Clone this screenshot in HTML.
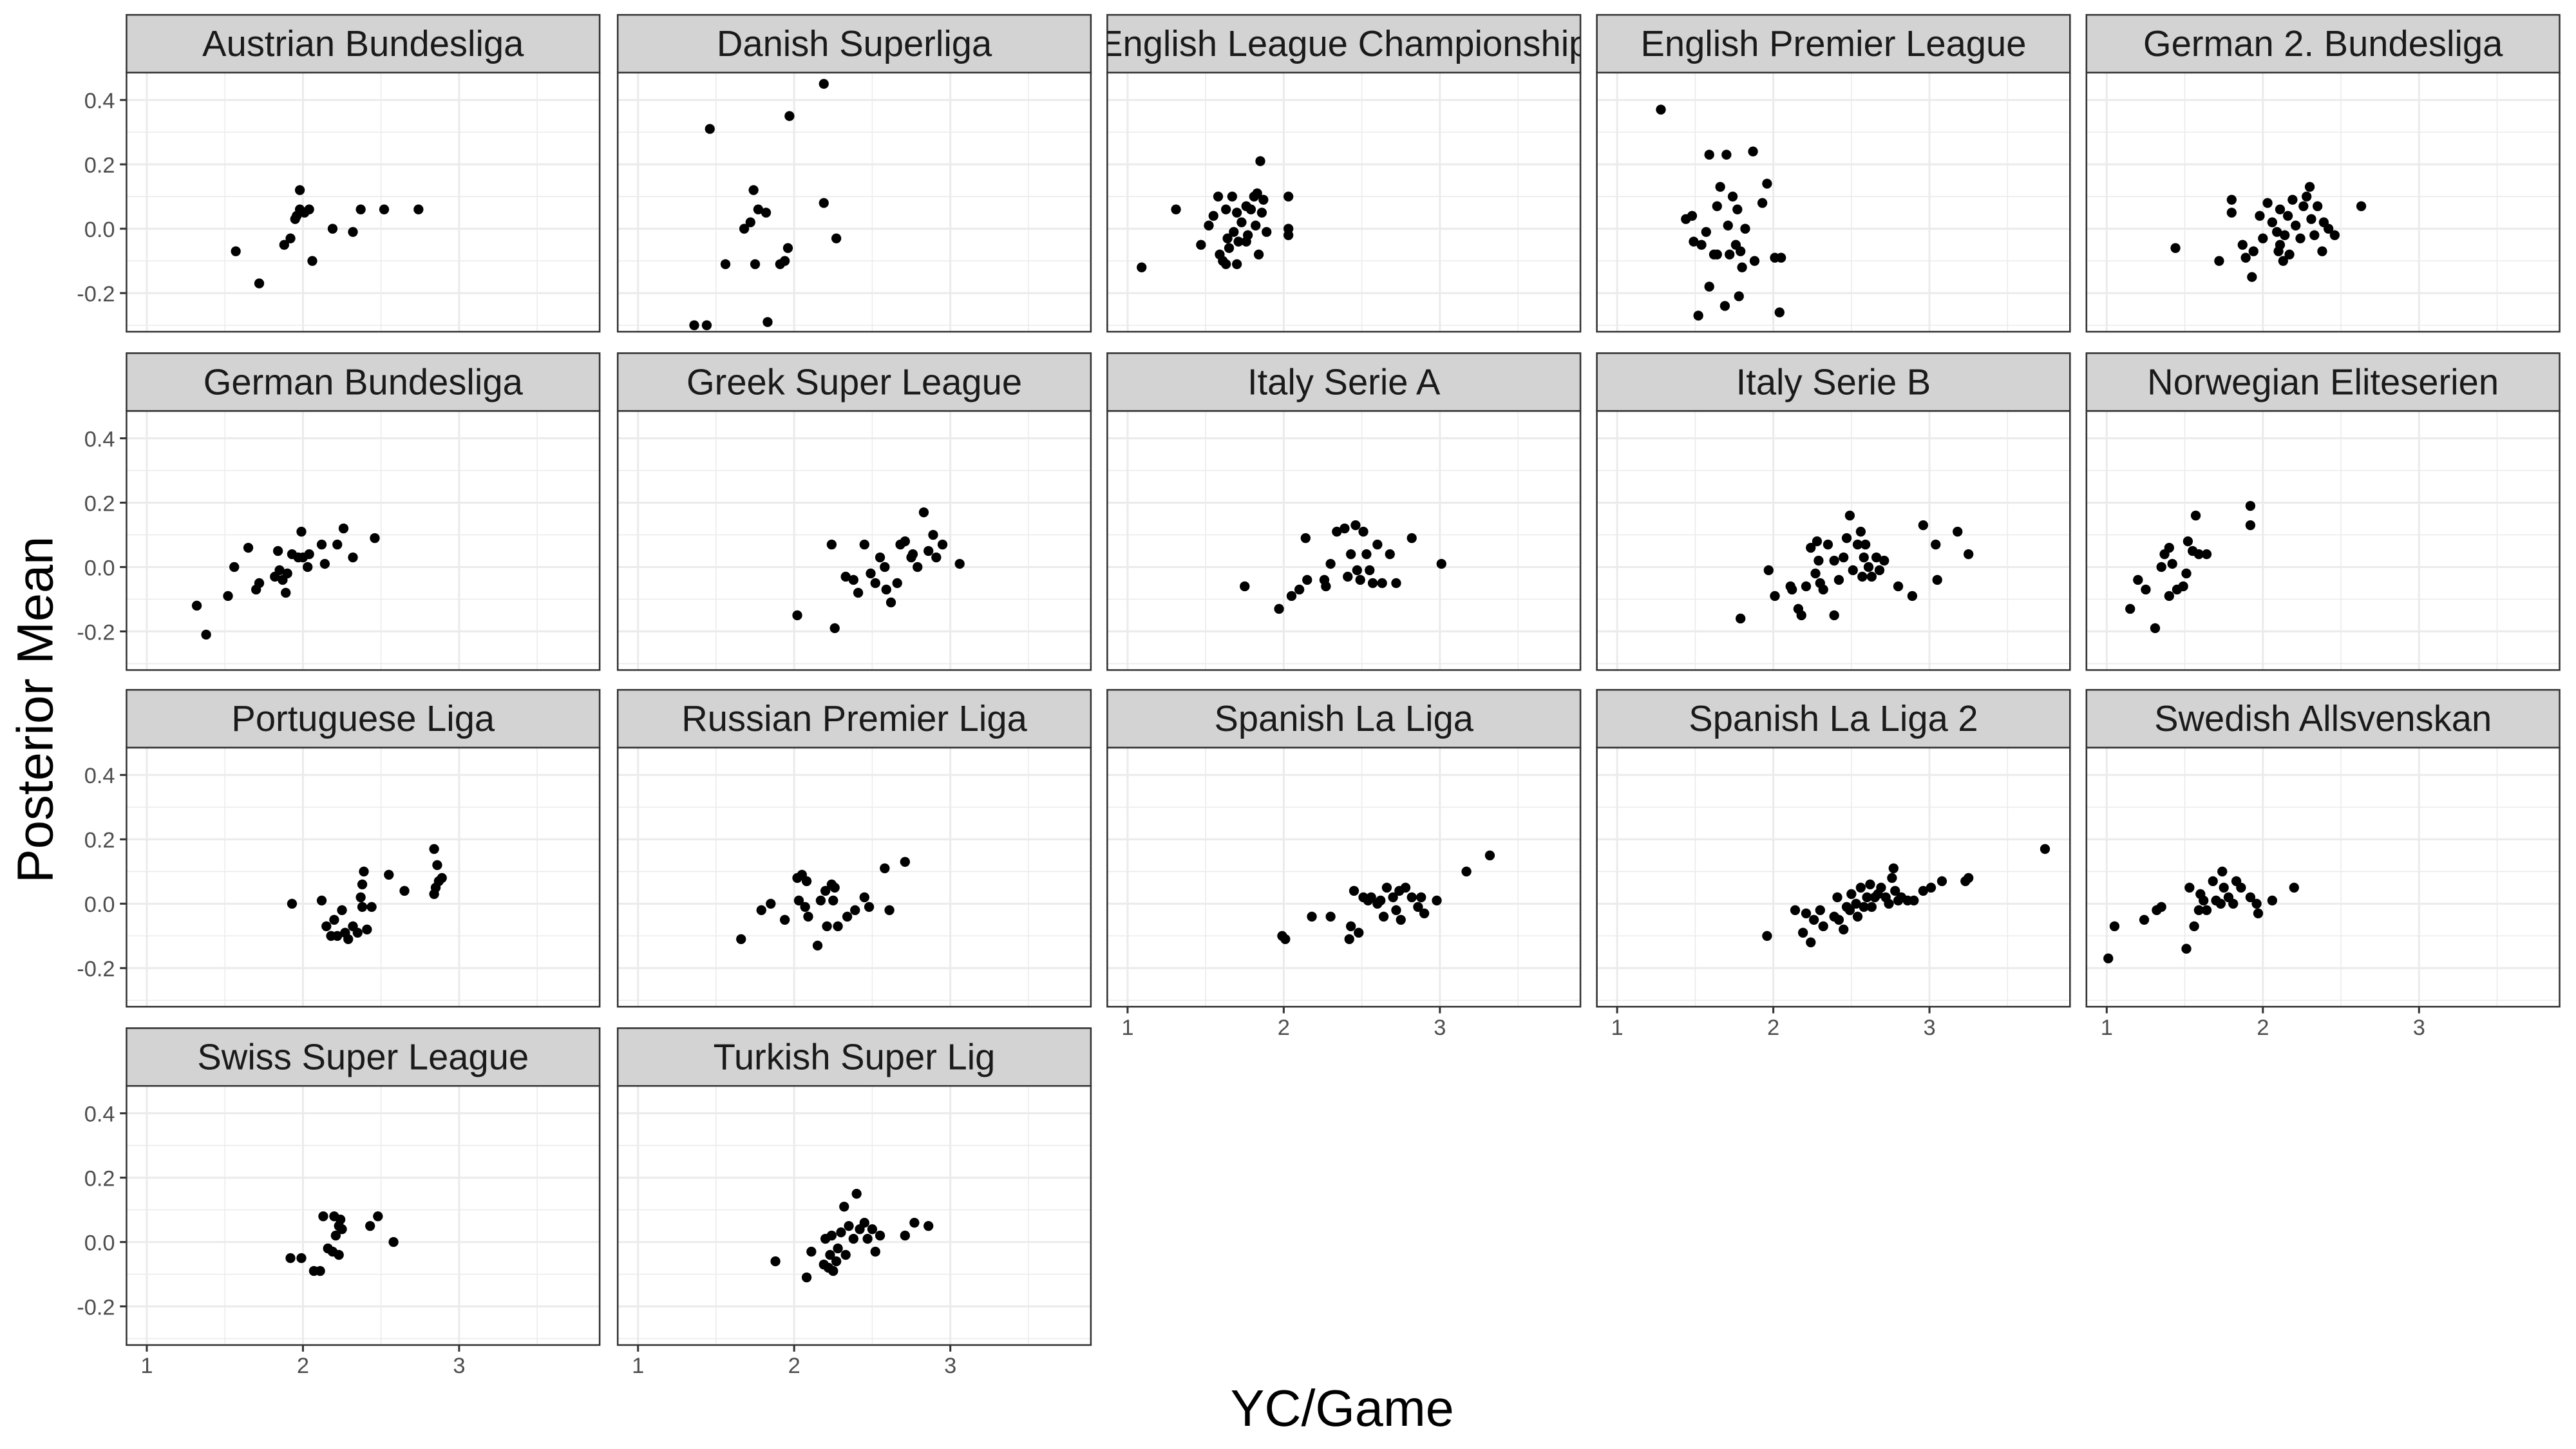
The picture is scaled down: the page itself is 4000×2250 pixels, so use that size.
<!DOCTYPE html>
<html><head><meta charset="utf-8"><style>
html,body{margin:0;padding:0;background:#fff;}
svg{display:block;}
</style></head><body>
<svg id="chart" xmlns="http://www.w3.org/2000/svg" width="4000" height="2250" viewBox="0 0 1568 878" preserveAspectRatio="none" font-family="'Liberation Sans', Arial, sans-serif">
<rect width="1568" height="878" fill="#fff"/>
<text transform="translate(32,430) rotate(-90)" text-anchor="middle" font-size="31" fill="#000">Posterior Mean</text>
<text x="817" y="864" text-anchor="middle" font-size="31" fill="#000">YC/Game</text>
</svg>
<script>
const leagues = ["Austrian Bundesliga","Danish Superliga","English League Championship","English Premier League","German 2. Bundesliga","German Bundesliga","Greek Super League","Italy Serie A","Italy Serie B","Norwegian Eliteserien","Portuguese Liga","Russian Premier Liga","Spanish La Liga","Spanish La Liga 2","Swedish Allsvenskan","Swiss Super League","Turkish Super Lig"];
const xTicks = [1,2,3];
const yTicks = [-0.2,0.0,0.2,0.4];
const yTickLabels = ["-0.2","0.0","0.2","0.4"];
const xAustrian=[1.57,1.72,1.88,1.92,1.96,1.98,1.98,2.01,2.04,2.06,2.19,2.32,2.37,2.52,2.74,1.95];
const yAustrian=[-0.07,-0.17,-0.05,-0.03,0.04,0.12,0.06,0.05,0.06,-0.10,0.0,-0.01,0.06,0.06,0.06,0.03];
const xDanish=[1.36,1.44,1.46,1.56,1.68,1.72,1.74,1.75,1.77,1.82,1.83,1.91,1.94,1.96,1.97,2.19,2.19,2.27];
const yDanish=[-0.30,-0.30,0.31,-0.11,0.0,0.02,0.12,-0.11,0.06,0.05,-0.29,-0.11,-0.10,-0.06,0.35,0.45,0.08,-0.03];
const xChamp=[1.09,1.31,1.47,1.52,1.55,1.58,1.59,1.61,1.63,1.64,1.65,1.67,1.68,1.70,1.71,1.73,1.76,1.77,1.79,1.81,1.82,1.83,1.84,1.85,1.86,1.87,1.89,2.03,2.03,2.03,1.63,1.70,1.76];
const yChamp=[-0.12,0.06,-0.05,0.01,0.04,0.10,-0.08,-0.10,-0.11,-0.03,-0.06,0.10,-0.01,0.05,-0.04,0.02,0.07,-0.02,0.06,0.10,0.01,0.11,-0.08,0.21,0.05,0.09,-0.01,0.10,0.0,-0.02,0.06,-0.11,-0.04];
const xEPL=[1.28,1.44,1.48,1.49,1.52,1.54,1.57,1.59,1.59,1.62,1.64,1.66,1.69,1.70,1.71,1.72,1.74,1.76,1.77,1.78,1.79,1.80,1.82,1.87,1.88,1.93,1.96,2.01,2.04,2.05,1.64];
const yEPL=[0.37,0.03,0.04,-0.04,-0.27,-0.05,-0.01,0.23,-0.18,-0.08,0.07,0.13,-0.24,0.23,0.01,-0.08,0.10,-0.05,0.06,-0.21,-0.07,-0.12,0.0,0.24,-0.10,0.08,0.14,-0.09,-0.26,-0.09,-0.08];
const xGer2=[1.44,1.72,1.80,1.80,1.87,1.89,1.93,1.94,1.98,2.00,2.03,2.06,2.09,2.10,2.11,2.13,2.14,2.16,2.17,2.19,2.21,2.24,2.26,2.28,2.30,2.31,2.33,2.35,2.38,2.39,2.42,2.46,2.63,2.11];
const yGer2=[-0.06,-0.10,0.09,0.05,-0.05,-0.09,-0.15,-0.07,0.04,-0.03,0.08,0.02,-0.01,-0.07,0.06,-0.10,-0.02,0.04,-0.08,0.09,0.01,-0.03,0.07,0.10,0.13,0.03,-0.02,0.07,-0.07,0.02,0.0,-0.02,0.07,-0.05];
const xGer=[1.32,1.38,1.52,1.56,1.65,1.70,1.72,1.82,1.84,1.85,1.87,1.89,1.90,1.93,1.97,1.99,2.00,2.04,2.03,2.12,2.14,2.22,2.26,2.32,2.46];
const yGer=[-0.12,-0.21,-0.09,0.0,0.06,-0.07,-0.05,-0.03,0.05,-0.01,-0.04,-0.08,-0.02,0.04,0.03,0.11,0.03,0.04,0.0,0.07,0.01,0.07,0.12,0.03,0.09];
const xGreek=[2.02,2.24,2.26,2.33,2.38,2.41,2.45,2.49,2.52,2.55,2.58,2.59,2.62,2.66,2.68,2.71,2.76,2.79,2.83,2.86,2.89,2.91,2.95,3.06,2.75];
const yGreek=[-0.15,0.07,-0.19,-0.03,-0.04,-0.08,0.07,-0.02,-0.05,0.03,0.0,-0.07,-0.11,-0.05,0.07,0.08,0.04,0.0,0.17,0.05,0.10,0.03,0.07,0.01,0.03];
const xSerieA=[1.75,1.97,2.05,2.10,2.14,2.15,2.26,2.27,2.30,2.34,2.39,2.41,2.43,2.46,2.47,2.49,2.51,2.53,2.55,2.57,2.60,2.63,2.68,2.72,2.82,3.01];
const ySerieA=[-0.06,-0.13,-0.09,-0.07,0.09,-0.04,-0.04,-0.06,0.01,0.11,0.12,-0.03,0.04,0.13,-0.01,-0.04,0.11,0.04,-0.01,-0.05,0.07,-0.05,0.04,-0.05,0.09,0.01];
const xSerieB=[1.79,1.97,2.01,2.11,2.12,2.16,2.18,2.21,2.24,2.27,2.28,2.29,2.30,2.32,2.35,2.39,2.42,2.45,2.47,2.49,2.51,2.54,2.56,2.57,2.58,2.59,2.61,2.63,2.66,2.68,2.71,2.80,2.89,2.96,3.04,3.05,3.18,3.25,2.39];
const ySerieB=[-0.16,-0.01,-0.09,-0.06,-0.07,-0.13,-0.15,-0.06,0.06,-0.02,0.08,0.02,-0.05,-0.07,0.07,-0.15,-0.04,0.03,0.09,0.16,-0.01,0.07,0.11,-0.03,0.03,0.07,0.0,-0.03,0.03,-0.01,0.02,-0.06,-0.09,0.13,0.07,-0.04,0.11,0.04,0.02];
const xNor=[1.15,1.20,1.25,1.31,1.35,1.37,1.40,1.40,1.42,1.45,1.49,1.52,1.55,1.57,1.59,1.64,1.92,1.92,1.51];
const yNor=[-0.13,-0.04,-0.07,-0.19,0.0,0.04,0.06,-0.09,0.01,-0.07,-0.06,0.08,0.05,0.16,0.04,0.04,0.19,0.13,-0.02];
const xPor=[1.93,2.12,2.15,2.18,2.20,2.22,2.25,2.27,2.29,2.32,2.35,2.37,2.38,2.38,2.39,2.41,2.44,2.55,2.65,2.84,2.85,2.86,2.87,2.89,2.84];
const yPor=[0.0,0.01,-0.07,-0.10,-0.05,-0.10,-0.02,-0.09,-0.11,-0.07,-0.09,0.02,0.06,-0.01,0.10,-0.08,-0.01,0.09,0.04,0.17,0.05,0.12,0.07,0.08,0.03];
const xRus=[1.66,1.79,1.85,1.94,2.02,2.03,2.05,2.07,2.08,2.09,2.15,2.17,2.20,2.21,2.24,2.25,2.28,2.34,2.39,2.45,2.48,2.58,2.61,2.71,2.26];
const yRus=[-0.11,-0.02,0.0,-0.05,0.08,0.01,0.09,-0.01,0.07,-0.04,-0.13,0.01,0.04,-0.07,0.06,0.01,-0.07,-0.04,-0.02,0.02,-0.01,0.11,-0.02,0.13,0.05];
const xLaLiga=[1.99,2.01,2.18,2.30,2.42,2.43,2.45,2.48,2.51,2.54,2.56,2.60,2.62,2.64,2.66,2.70,2.72,2.75,2.78,2.82,2.86,2.88,2.90,2.98,3.17,3.32,2.74];
const yLaLiga=[-0.10,-0.11,-0.04,-0.04,-0.11,-0.07,0.04,-0.09,0.02,0.01,0.02,0.0,0.01,-0.04,0.05,0.02,-0.02,-0.05,0.05,0.02,-0.01,0.02,-0.03,0.01,0.10,0.15,0.04];
const xLaLiga2=[1.96,2.14,2.19,2.21,2.24,2.26,2.30,2.32,2.39,2.41,2.42,2.45,2.47,2.49,2.50,2.53,2.54,2.56,2.58,2.60,2.62,2.63,2.65,2.67,2.69,2.72,2.74,2.76,2.77,2.78,2.80,2.82,2.86,2.90,2.96,3.01,3.08,3.23,3.25,3.74];
const yLaLiga2=[-0.10,-0.02,-0.09,-0.03,-0.12,-0.05,-0.02,-0.07,-0.04,0.02,-0.05,-0.08,-0.01,-0.02,0.03,0.0,-0.04,0.05,-0.01,0.02,0.06,-0.01,0.02,0.03,0.05,0.02,0.0,0.08,0.11,0.04,0.01,0.02,0.01,0.01,0.04,0.05,0.07,0.07,0.08,0.17];
const xSwe=[1.01,1.05,1.24,1.32,1.35,1.51,1.53,1.56,1.59,1.60,1.62,1.64,1.68,1.70,1.73,1.74,1.75,1.78,1.81,1.83,1.86,1.92,1.96,1.97,2.06,2.20];
const ySwe=[-0.17,-0.07,-0.05,-0.02,-0.01,-0.14,0.05,-0.07,-0.02,0.03,0.01,-0.02,0.07,0.01,0.0,0.10,0.05,0.02,0.0,0.07,0.05,0.02,0.0,-0.03,0.01,0.05];
const xSwiss=[1.92,1.99,2.07,2.11,2.13,2.16,2.19,2.20,2.21,2.23,2.24,2.25,2.23,2.43,2.48,2.58];
const ySwiss=[-0.05,-0.05,-0.09,-0.09,0.08,-0.02,-0.03,0.08,0.02,0.05,0.07,0.04,-0.04,0.05,0.08,0.0];
const xTur=[1.88,2.08,2.11,2.19,2.20,2.22,2.23,2.24,2.25,2.27,2.28,2.30,2.32,2.35,2.38,2.40,2.42,2.45,2.47,2.50,2.52,2.55,2.71,2.77,2.86,2.33];
const yTur=[-0.06,-0.11,-0.03,-0.07,0.01,-0.08,-0.04,0.02,-0.09,-0.06,-0.02,0.03,0.11,0.05,0.01,0.15,0.04,0.06,0.01,0.04,-0.03,0.02,0.02,0.06,0.05,-0.04];

const seriesX=[xAustrian,xDanish,xChamp,xEPL,xGer2,xGer,xGreek,xSerieA,xSerieB,xNor,xPor,xRus,xLaLiga,xLaLiga2,xSwe,xSwiss,xTur];
const seriesY=[yAustrian,yDanish,yChamp,yEPL,yGer2,yGer,yGreek,ySerieA,ySerieB,yNor,yPor,yRus,yLaLiga,yLaLiga2,ySwe,ySwiss,yTur];

const NS="http://www.w3.org/2000/svg";
const svg=document.getElementById('chart');
const colLeft=[77,376,674,972,1270], PW=288;
const stripTop=[9,214,418,623], SH=35, PH=157;
const XMIN=0.87,XMAX=3.9,YMIN=-0.32,YMAX=0.485;
function mk(tag,attrs,parent){const e=document.createElementNS(NS,tag);for(const k in attrs)e.setAttribute(k,attrs[k]);(parent||svg).appendChild(e);return e;}
const defs=mk('defs',{});
leagues.forEach((name,i)=>{
  const r=Math.floor(i/5), c=i%5;
  const L=colLeft[c], T=stripTop[r]+SH;
  const sx=v=>L+(v-XMIN)/(XMAX-XMIN)*PW;
  const sy=v=>T+(YMAX-v)/(YMAX-YMIN)*PH;
  const g=mk('g',{});
  
  
  const cp=mk('clipPath',{id:'cs'+i},defs);
  mk('rect',{x:L,y:stripTop[r],width:PW,height:SH},cp);
  mk('rect',{x:L,y:T,width:PW,height:PH,fill:'#fff'},g);
  for(let v=0.5;v<4;v+=1){ if(v>XMIN&&v<XMAX) mk('line',{x1:sx(v),x2:sx(v),y1:T,y2:T+PH,stroke:'#ebebeb','stroke-width':0.6},g);}
  [-0.3,-0.1,0.1,0.3].forEach(v=>mk('line',{x1:L,x2:L+PW,y1:sy(v),y2:sy(v),stroke:'#ebebeb','stroke-width':0.6},g));
  xTicks.forEach(v=>mk('line',{x1:sx(v),x2:sx(v),y1:T,y2:T+PH,stroke:'#ebebeb','stroke-width':1.2},g));
  yTicks.forEach(v=>mk('line',{x1:L,x2:L+PW,y1:sy(v),y2:sy(v),stroke:'#ebebeb','stroke-width':1.2},g));
  const xs=seriesX[i], ys=seriesY[i];
  for(let k=0;k<xs.length;k++){
    const p=mk('circle',{cx:sx(xs[k]),cy:sy(ys[k]),r:3,fill:'#000'},g);
    
    
  }
  mk('rect',{x:L,y:T,width:PW,height:PH,fill:'none',stroke:'#333','stroke-width':1},g);
  const st=mk('rect',{x:L,y:stripTop[r],width:PW,height:SH,fill:'#d3d3d3',stroke:'#333','stroke-width':1},g);
  
  
  const t=mk('text',{x:L+PW/2,y:stripTop[r]+25,'text-anchor':'middle','font-size':22,fill:'#1a1a1a','clip-path':'url(#cs'+i+')'},g);
  
  
  t.textContent=name;
  if(c===0){
    yTicks.forEach((v,j)=>{
      mk('line',{x1:L-4,x2:L,y1:sy(v),y2:sy(v),stroke:'#333','stroke-width':1.2},g);
      const tl=mk('text',{x:L-7,y:sy(v)+5,'text-anchor':'end','font-size':13.5,fill:'#4d4d4d'},g);
      
      
      tl.textContent=yTickLabels[j];
    });
  }
  const bottom = (r===3) || (r===2 && c>=2);
  if(bottom){
    xTicks.forEach(v=>{
      mk('line',{x1:sx(v),x2:sx(v),y1:T+PH,y2:T+PH+4,stroke:'#333','stroke-width':1.2},g);
      const tl=mk('text',{x:sx(v),y:T+PH+17,'text-anchor':'middle','font-size':13.5,fill:'#4d4d4d'},g);
      
      
      tl.textContent=String(v);
    });
  }
});
</script>
</body></html>
